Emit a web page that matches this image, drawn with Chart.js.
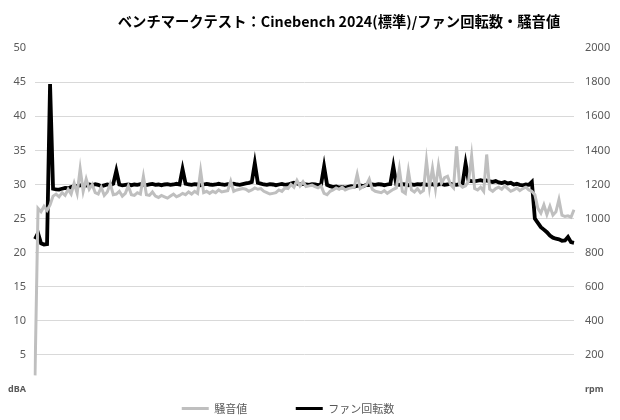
<!DOCTYPE html>
<html>
<head>
<meta charset="utf-8">
<script src="https://cdn.jsdelivr.net/npm/chart.js@4/dist/chart.umd.min.js"></script>
<style>
  html, body { margin: 0; padding: 0; background: #fff; }
  #wrap { width: 620px; height: 420px; }
</style>
</head>
<body>
<div id="wrap"><canvas id="benchChart" width="620" height="420"></canvas></div>
<script>
// 騒音値 (dBA), left axis
var noise = [
  2, 26.5, 26, 26.8, 26.2, 27, 28.3,
  28.6, 28.2, 28.8, 28.4, 29.3, 28.6, 30.2, 28.7, 32.3, 29.0, 30.8, 29.3, 30.0,
  28.8, 28.6, 29.6, 28.4, 28.9, 30.1, 28.5, 28.6, 29.0, 28.3, 28.7, 29.8, 28.5, 28.4, 28.8,
  28.6, 31.2, 28.5, 28.4, 28.9, 28.3, 28.1, 28.4, 28.2, 28.0, 28.3, 28.6, 28.2, 28.4, 28.7,
  28.5, 28.9, 28.6, 29.0, 28.7, 32.0, 28.8, 29.0, 28.7, 29.0, 28.8, 29.2, 28.9,
  29.0, 29.1, 30.5, 29.0, 29.2, 29.3, 29.4, 29.3, 29.0, 29.2, 29.5, 29.3, 29.4,
  29.0, 28.8, 28.6, 28.7, 28.8, 29.2, 29.0, 29.5, 29.4, 30.0, 29.6, 30.6, 29.8, 30.4, 29.7,
  29.8, 29.9, 29.7, 29.5, 29.8, 28.7, 28.5, 29.0, 29.2, 29.5, 29.3, 29.6, 29.2, 29.4, 29.5,
  29.6, 31.5, 29.4, 29.7, 29.9, 30.8, 29.3, 29.0, 28.9, 28.8, 29.1, 28.7, 29.0, 29.3, 29.5,
  32.3, 29.0, 28.7, 32.0, 29.2, 28.9, 29.4, 28.8, 29.1, 33.5, 29.6, 32.4, 29.4, 32.8, 30.2,
  31.0, 31.2, 30.0, 29.5, 35.6, 30.0, 29.6, 29.8, 30.5, 34.2, 29.4, 29.2, 29.6, 29.0, 34.4,
  29.3, 29.0, 29.4, 29.6, 29.3, 29.8, 29.4, 29.0, 29.2, 29.5, 29.1, 29.4, 29.6, 29.2, 29.0,
  28.5, 26.5, 25.8, 27.0, 25.6, 26.8, 25.5, 26.0, 27.8, 25.5, 25.3, 25.4, 25.2, 26.3
];

// ファン回転数 (rpm), right axis
var fanRpm = [
  880, 915, 855, 848, 850, 1790, 1175,
  1172, 1170, 1175, 1180, 1178, 1185, 1190, 1192, 1195, 1198, 1194, 1200, 1196, 1202,
  1198, 1190, 1195, 1200, 1196, 1205, 1280, 1200, 1195, 1198, 1200, 1196, 1200, 1198, 1202,
  1200, 1197, 1200, 1203, 1198, 1200, 1196, 1200, 1202, 1198, 1200, 1204, 1200, 1290, 1205,
  1200, 1198, 1202, 1200, 1196, 1200, 1203, 1200, 1198, 1200, 1204, 1200, 1198, 1202, 1200,
  1205, 1200, 1198, 1202, 1206, 1210, 1215, 1325, 1210, 1205, 1200, 1198, 1202, 1200, 1196,
  1200, 1203, 1198, 1200, 1205, 1210, 1206, 1200, 1204, 1200, 1198, 1202, 1200, 1196, 1200,
  1306, 1198, 1190, 1185, 1188, 1182, 1185, 1180, 1186, 1190, 1188, 1192, 1195, 1190, 1198,
  1196, 1200, 1198, 1202, 1200, 1196, 1200, 1203, 1306, 1200, 1198, 1202, 1200, 1196, 1200,
  1198, 1202, 1200, 1204, 1198, 1200, 1202, 1196, 1200, 1203, 1198, 1200, 1205, 1200, 1198, 1202, 1205,
  1323, 1222, 1220, 1218, 1222, 1225, 1220, 1224, 1218, 1215, 1220, 1212, 1208, 1214, 1206,
  1210, 1200, 1204, 1198, 1195, 1200, 1198,
  1215, 1000, 975, 950, 935, 920, 900, 888, 882, 878, 870, 872, 892, 862, 858
];

var samples = noise.map(function(v, i) { return i + 1; });
var leftTicks = [0, 5, 10, 15, 20, 25, 30, 35, 40, 45, 50];
var rightTicks = [0, 200, 400, 600, 800, 1000, 1200, 1400, 1600, 1800, 2000];

var tickColor = '#595959';
var gridColor = '#d9d9d9';

// nudge title and legend to where the original sits
var nudgeBoxes = {
  id: 'nudgeBoxes',
  afterLayout: function(chart) {
    chart.titleBlock.left += 29;
    chart.titleBlock.right += 29;
    chart.legend.left -= 22;
    chart.legend.right -= 22;
    chart.legend.top += 4;
    chart.legend.bottom += 4;
  }
};

new Chart(document.getElementById('benchChart'), {
  type: 'line',
  data: {
    labels: samples,
    datasets: [
      {
        label: '騒音値',
        data: noise,
        yAxisID: 'yNoise',
        borderColor: '#bfbfbf',
        backgroundColor: '#bfbfbf',
        borderWidth: 3,
        pointRadius: 0,
        tension: 0
      },
      {
        label: 'ファン回転数',
        data: fanRpm,
        yAxisID: 'yRpm',
        borderColor: '#000000',
        backgroundColor: '#000000',
        borderWidth: 3.8,
        pointRadius: 0,
        tension: 0
      }
    ]
  },
  options: {
    responsive: false,
    animation: false,
    layout: { padding: { left: 0, right: 0, top: 0, bottom: 0 } },
    plugins: {
      title: {
        display: true,
        text: 'ベンチマークテスト：Cinebench 2024(標準)/ファン回転数・騒音値',
        color: '#000',
        font: { family: '"Noto Sans CJK JP"', size: 14.3, weight: 'bold' },
        padding: { top: 13, bottom: 18 }
      },
      legend: {
        position: 'bottom',
        labels: {
          color: tickColor,
          font: { family: '"Noto Sans CJK JP"', size: 11 },
          boxWidth: 27,
          boxHeight: 3,
          padding: 10,
          generateLabels: function(chart) {
            var items = Chart.defaults.plugins.legend.labels.generateLabels(chart);
            items.forEach(function(it) { it.lineWidth = 0; });
            items[0].text = items[0].text + '\u3000\u3000\u3000\u2002';
            return items;
          }
        }
      },
      tooltip: { enabled: false }
    },
    scales: {
      x: {
        display: false,
        offset: false
      },
      yNoise: {
        position: 'left',
        min: 0,
        max: 50,
        afterBuildTicks: function(s) { s.ticks = leftTicks.map(function(v) { return { value: v }; }); },
        afterFit: function(s) { s.width = 35; },
        border: { display: false },
        grid: {
          color: function(ctx) {
            var v = ctx.tick && ctx.tick.value;
            return (v === 0 || v === 50) ? 'rgba(0,0,0,0)' : gridColor;
          },
          drawTicks: false
        },
        ticks: {
          padding: 9,
          color: tickColor,
          font: function(ctx) {
            if (ctx.tick && ctx.tick.value === 0) return { family: '"Noto Sans"', size: 9, weight: 'bold' };
            return { family: '"Noto Sans"', size: 11 };
          },
          callback: function(v) { return v === 0 ? 'dBA' : v; }
        }
      },
      yRpm: {
        position: 'right',
        min: 0,
        max: 2000,
        afterBuildTicks: function(s) { s.ticks = rightTicks.map(function(v) { return { value: v }; }); },
        afterFit: function(s) { s.width = 46; },
        border: { display: false },
        grid: { drawOnChartArea: false, drawTicks: false },
        ticks: {
          padding: 11,
          color: tickColor,
          font: function(ctx) {
            if (ctx.tick && ctx.tick.value === 0) return { family: '"Noto Sans"', size: 9, weight: 'bold' };
            return { family: '"Noto Sans"', size: 11 };
          },
          callback: function(v) { return v === 0 ? 'rpm' : v; }
        }
      }
    }
  },
  plugins: [nudgeBoxes]
});
</script>
</body>
</html>
